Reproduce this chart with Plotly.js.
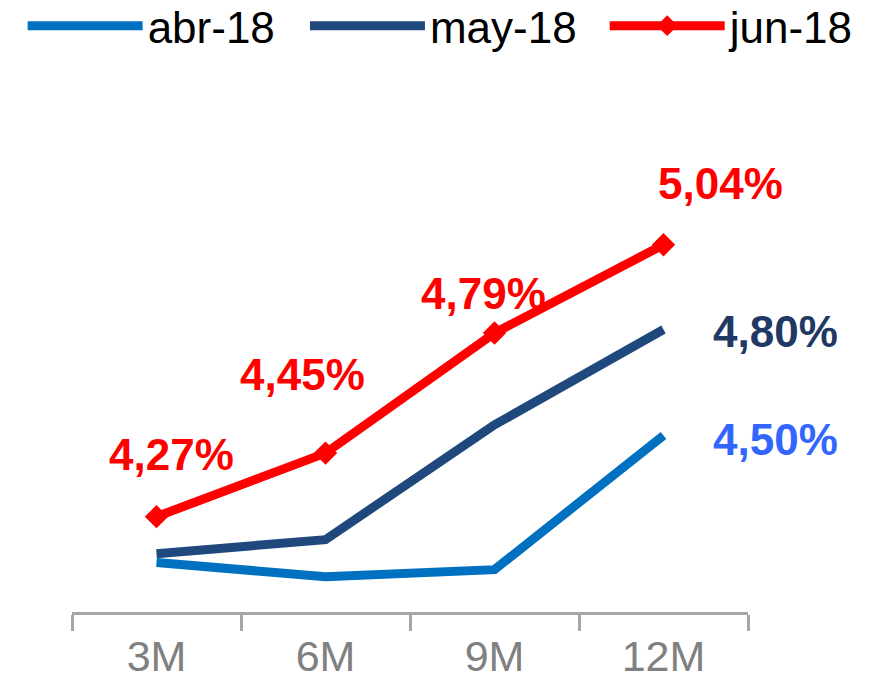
<!DOCTYPE html>
<html>
<head>
<meta charset="utf-8">
<script src="https://cdn.plot.ly/plotly-3.0.1.min.js"></script>
<style>html,body{margin:0;padding:0;background:#fff;}#chart{width:878px;height:684px;}</style>
</head>
<body>
<div id="chart"></div>
<script>
const categories = ['3M', '6M', '9M', '12M'];
const abr18 = [4.14, 4.10, 4.12, 4.50];
const may18 = [4.165, 4.205, 4.53, 4.80];
const jun18 = [4.27, 4.45, 4.79, 5.04];
const seriesNames = ['abr-18', 'may-18', 'jun-18'];

const fmt = v => v.toFixed(2).replace('.', ',') + '%';
const FONT = 'Liberation Sans, Arial, sans-serif';

const traces = [
  {x: categories, y: abr18, name: seriesNames[0], type: 'scatter', mode: 'lines', legend: 'legend',
   line: {color: '#0070C0', width: 9}},
  {x: categories, y: may18, name: seriesNames[1], type: 'scatter', mode: 'lines', legend: 'legend2',
   line: {color: '#1F497D', width: 9}},
  {x: categories, y: jun18, name: seriesNames[2], type: 'scatter', mode: 'lines+markers', legend: 'legend3',
   line: {color: '#FF0000', width: 9}, marker: {symbol: 'diamond', size: 18, color: '#FF0000'}}
];

// label placement (pixel offsets from the point)
const junShift = [[15, 62], [-23, 79], [-11, 40], [57, 61]];
const LBL = 44;
const annotations = [];
jun18.forEach((v, i) => annotations.push({
  x: categories[i], y: v, text: '<b>' + fmt(v) + '</b>', showarrow: false,
  xshift: junShift[i][0], yshift: junShift[i][1],
  font: {family: FONT, size: LBL, color: '#FF0000'}
}));
annotations.push({x: categories[3], y: may18[3], text: '<b>' + fmt(may18[3]) + '</b>', showarrow: false,
  xshift: 112, yshift: -2, font: {family: FONT, size: LBL, color: '#1F3864'}});
annotations.push({x: categories[3], y: abr18[3], text: '<b>' + fmt(abr18[3]) + '</b>', showarrow: false,
  xshift: 112, yshift: -4, font: {family: FONT, size: LBL, color: '#3366FF'}});

const legendBase = {orientation: 'h', xanchor: 'left', y: 1.037, yanchor: 'middle',
  font: {family: FONT, size: 44, color: '#000'}, itemwidth: 115, bgcolor: 'rgba(0,0,0,0)'};

const layout = {
  width: 878, height: 684,
  margin: {l: 72, r: 130, t: 47, b: 72, autoexpand: false},
  paper_bgcolor: '#fff', plot_bgcolor: '#fff',
  showlegend: true,
  legend: Object.assign({}, legendBase, {x: -0.073}),
  legend2: Object.assign({}, legendBase, {x: 0.3446}),
  legend3: Object.assign({}, legendBase, {x: 0.788}),
  xaxis: {type: 'category', range: [-0.5, 3.5], showgrid: false, zeroline: false,
          showline: true, linecolor: '#A6A6A6', linewidth: 3,
          ticks: 'outside', tickson: 'boundaries', ticklen: 16, tickwidth: 3, tickcolor: '#A6A6A6',
          ticklabelstandoff: 4,
          tickfont: {family: FONT, size: 43, color: '#808080'}, fixedrange: true},
  yaxis: {range: [4.0, 5.6], visible: false, showgrid: false, zeroline: false, fixedrange: true},
  annotations: annotations
};

Plotly.newPlot('chart', traces, layout, {displayModeBar: false, staticPlot: true});
</script>
</body>
</html>
